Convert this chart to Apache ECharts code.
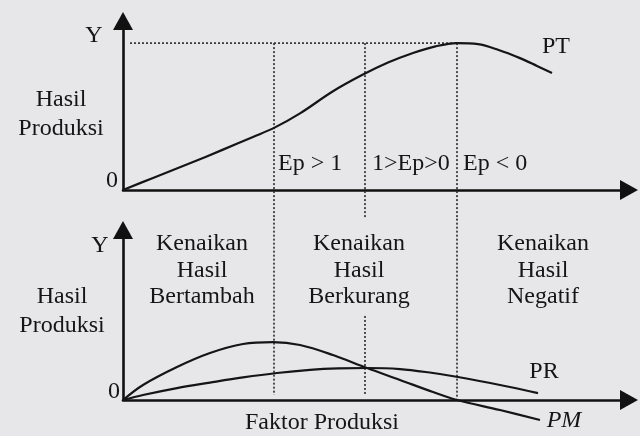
<!DOCTYPE html>
<html>
<head>
<meta charset="utf-8">
<script src="https://cdn.jsdelivr.net/npm/echarts@6/dist/echarts.min.js"></script>
<style>
  html, body { margin: 0; padding: 0; background: #e7e7ea; }
  #chart { width: 640px; height: 436px; }
</style>
</head>
<body>
<div id="chart"></div>
<script>
// Produksi total (PT): [faktor produksi, hasil produksi]
const ptData = [
  [0, 0], [0.6, 0.82], [1.3, 1.76], [2.0, 2.74], [2.6, 3.6], [3.04, 4.25], [3.54, 5.2],
  [4.2, 6.7], [4.78, 7.8], [5.3, 8.65], [5.8, 9.3], [6.25, 9.75], [6.68, 9.97],
  [7.1, 9.9], [7.5, 9.52], [7.94, 8.95], [8.28, 8.42], [8.58, 7.94]
];
// Produksi marjinal (PM)
const pmData = [
  [0, 0], [0.4, 1.02], [1.08, 2.24], [1.74, 3.19], [2.4, 3.8], [3.0, 3.93], [3.54, 3.73],
  [4.2, 3.05], [4.88, 2.17], [5.54, 1.36], [6.2, 0.54], [6.68, 0], [7.54, -0.68], [8.34, -1.36]
];
// Produksi rata-rata (PR)
const prData = [
  [0, 0], [0.4, 0.34], [1.08, 0.81], [1.74, 1.18], [2.4, 1.53], [3.08, 1.83], [3.74, 2.04],
  [4.3, 2.14], [4.88, 2.17], [5.54, 2.1], [6.1, 1.88], [6.7, 1.56], [7.54, 1.02], [8.3, 0.47]
];

// batas tahap produksi dan garis bantu
const stageBounds = [3.02, 4.84, 6.68];
const ptMax = 9.97;
const topGuideEnd = [-2.0, -1.9, -2.0];     // garis putus-putus di panel atas
const bottomGuideStart = [12.3, 5.7, 12.3]; // garis putus-putus di panel bawah
const bottomGuideEnd = [0.34, 0.27, 0];

const epLabels = ['Ep > 1', '1>Ep>0', 'Ep < 0'];
const stageLabels = [
  ['Kenaikan', 'Hasil', 'Bertambah'],
  ['Kenaikan', 'Hasil', 'Berkurang'],
  ['Kenaikan', 'Hasil', 'Negatif']
];

const chart = echarts.init(document.getElementById('chart'));

const ink = '#151515';
const serif = 'Liberation Serif, serif';

const curve = (data, idx) => ({
  type: 'line', xAxisIndex: idx, yAxisIndex: idx, data: data,
  smooth: 0.35, symbol: 'none', clip: false, silent: true, z: 3,
  lineStyle: { color: ink, width: 2.2 }
});
const guide = (data, idx) => ({
  type: 'line', xAxisIndex: idx, yAxisIndex: idx, data: data,
  symbol: 'none', clip: false, silent: true, z: 2,
  lineStyle: { color: '#2a2a2a', width: 1.6, type: [2, 2] }
});

const series = [
  curve(ptData, 0),
  curve(pmData, 1),
  curve(prData, 1),
  guide([[0.14, ptMax], [stageBounds[2], ptMax]], 0)
];
stageBounds.forEach((b, i) => {
  series.push(guide([[b, ptMax], [b, topGuideEnd[i]]], 0));
  series.push(guide([[b, bottomGuideStart[i]], [b, bottomGuideEnd[i]]], 1));
});

const axisLine = {
  show: true, onZero: true,
  symbol: ['none', 'triangle'], symbolSize: [20, 18],
  lineStyle: { color: '#111', width: 2.6 }
};
const bare = {
  axisLine: axisLine, axisTick: { show: false },
  axisLabel: { show: false }, splitLine: { show: false }
};

const txt = (text, x, y, extra) => ({
  type: 'text', x: x, y: y, silent: true,
  style: Object.assign({
    text: text, fill: ink, fontFamily: serif, fontSize: 24,
    textAlign: 'center', textVerticalAlign: 'middle'
  }, extra || {})
});

const graphic = [
  txt('Y', 94, 36), txt('Hasil', 61, 100), txt('Produksi', 61, 129), txt('0', 112, 181),
  txt('Y', 100, 246), txt('Hasil', 62, 297), txt('Produksi', 62, 326), txt('0', 114, 392),
  txt('PT', 556, 47), txt('PR', 544, 372),
  txt('PM', 564, 421, { fontStyle: 'italic' }),
  txt('Faktor Produksi', 322, 423)
];
const epX = [278, 372, 463];
epLabels.forEach((t, i) => graphic.push(txt(t, epX[i], 164, { textAlign: 'left' })));
const stageX = [202, 359, 543];
const stageY = [244, 271, 297];
stageLabels.forEach((lines, i) => lines.forEach((t, j) => graphic.push(txt(t, stageX[i], stageY[j]))));

chart.setOption({
  backgroundColor: '#e7e7ea',
  animation: false,
  grid: [
    { left: 123, right: 11, top: 21, height: 169 },
    { left: 123, right: 11, top: 230, height: 170 }
  ],
  xAxis: [0, 1].map(i => Object.assign({ type: 'value', gridIndex: i, min: 0, max: 10.12 }, bare)),
  yAxis: [
    Object.assign({ type: 'value', gridIndex: 0, min: 0, max: 11.47 }, bare),
    Object.assign({ type: 'value', gridIndex: 1, min: 0, max: 11.53 }, bare)
  ],
  series: series,
  graphic: graphic
});
</script>
</body>
</html>
